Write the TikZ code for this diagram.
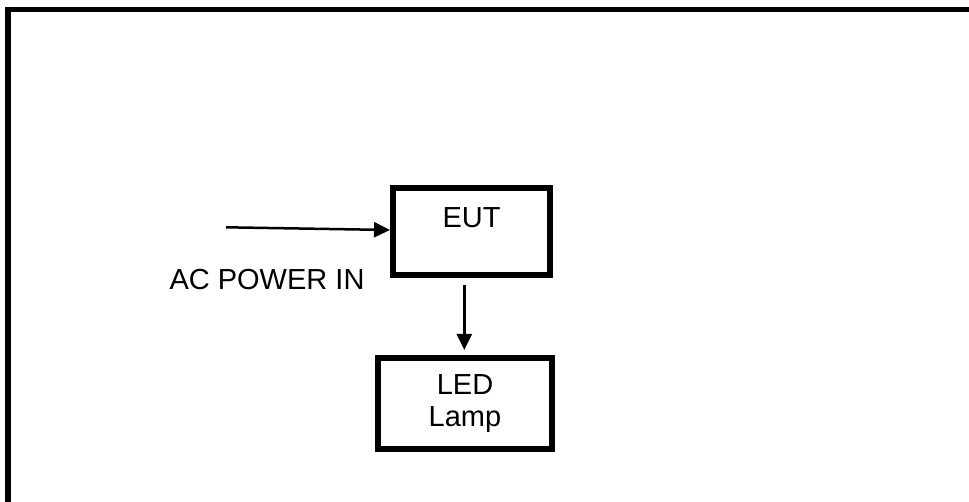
\documentclass[tikz,border=0pt]{standalone}
\usepackage{fontspec}
\setmainfont{Liberation Sans}
\usetikzlibrary{arrows.meta}
\begin{document}
\begin{tikzpicture}[x=1pt,y=-1pt,
  box/.style={draw=black, line width=6pt, rectangle, inner sep=0pt, align=center,
              font=\fontsize{29}{32}\selectfont},
  conn/.style={draw=black, line width=2.5pt, -{Triangle[length=16pt 0, width=15pt 0]}},
  lbl/.style={inner sep=0pt, font=\fontsize{29}{32}\selectfont}]
\useasboundingbox (0,0) rectangle (969,502);
\clip (0,0) rectangle (969,502);
\draw[line width=5.5pt] (8,9.7) rectangle (1010,560);
\node[box, minimum width=157pt, minimum height=87pt, text height=21pt, text depth=28.4pt] (eut) at (471.5,231.5) {EUT};
\node[box, minimum width=174pt, minimum height=91pt] (led) at (465,403.5) {LED\\Lamp};
\node[lbl, anchor=base] (acin) at (267,289.5) {AC POWER IN};
\coordinate (src) at (226,227.3);
\draw[conn] (src) -- ([yshift=1.5pt]eut.west);
\draw[conn, shorten <=7pt, shorten >=5pt] ([xshift=-7.2pt]eut.south) -- ([xshift=-0.7pt]led.north);
\end{tikzpicture}
\end{document}
